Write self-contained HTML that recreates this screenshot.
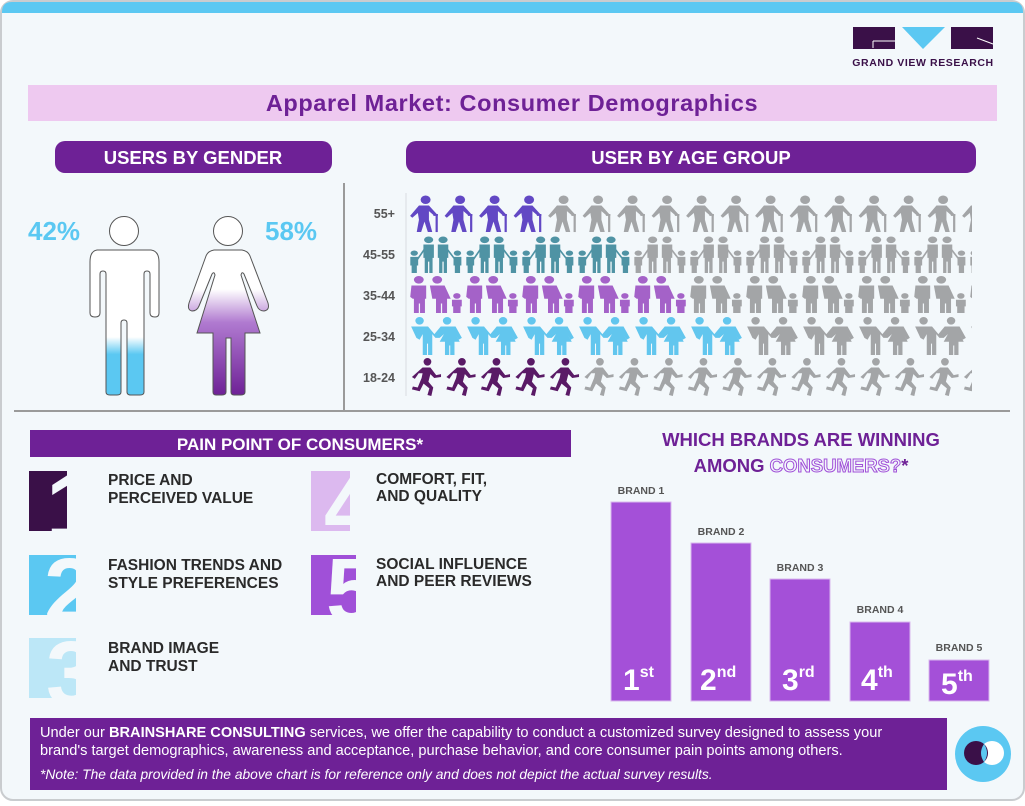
<!DOCTYPE html>
<html><head><meta charset="utf-8">
<style>
html,body{margin:0;padding:0;background:#fff;}
body{width:1025px;height:801px;overflow:hidden;font-family:"Liberation Sans",sans-serif;}
</style></head><body>
<svg id="s" width="1025" height="801" viewBox="0 0 1025 801" xmlns="http://www.w3.org/2000/svg" font-family="Liberation Sans, sans-serif">
<defs>
<linearGradient id="gm" x1="0" y1="0" x2="0" y2="1"><stop offset="0.6" stop-color="#fff"/><stop offset="0.72" stop-color="#5bc8f2"/><stop offset="1" stop-color="#5bc8f2"/></linearGradient>
<linearGradient id="gf" x1="0" y1="0" x2="0" y2="1"><stop offset="0.27" stop-color="#fff"/><stop offset="0.5" stop-color="#b07ad0"/><stop offset="1" stop-color="#6e2196"/></linearGradient>
<symbol id="old" viewBox="0 0 28 40" preserveAspectRatio="none"><circle cx="15" cy="5" r="4.5"/><path d="M9 11 L18 11 L25 20 L23 22 L18 17 L18 26 L21 39 L17 39 L14 28 L11 39 L7 39 L9 26 L8 19 L3 24 L1 22 Z"/><rect x="24" y="20" width="2" height="19"/><path d="M22 20 h4 v2 h-4z"/></symbol>
<symbol id="fam4" viewBox="5 0 42 40" preserveAspectRatio="none"><circle cx="20" cy="4" r="3.5"/><circle cx="31" cy="4" r="3.5"/><path d="M16 9h8v14h-1v16h-2.5v-12h-1v12h-2.5v-16h-1z"/><path d="M27 9h8v14h-1v16h-2.5v-12h-1v12h-2.5v-16h-1z"/><circle cx="9" cy="18" r="2.8"/><path d="M6 22h6v9h-1v8h-4v-8h-1z"/><circle cx="42" cy="18" r="2.8"/><path d="M39 22h6v9h-1v8h-4v-8h-1z"/><path d="M11 24l5-10 1 1-5 10zM35 14l5 9-1 1-5-9z"/></symbol>
<symbol id="fam3" viewBox="2 0 44 40" preserveAspectRatio="none"><circle cx="10" cy="4" r="4"/><circle cx="25" cy="4" r="4"/><path d="M4 10h12v14h-1v15h-4v-10h-1v10h-4v-15h-1l-2-2z"/><path d="M19 10h12l5 14h-3v15h-4v-10h-1v10h-4v-15h-3z"/><circle cx="41" cy="21" r="3"/><path d="M37 25h8v7h-1v7h-6v-7h-1z"/></symbol>
<symbol id="cpl" viewBox="2 0 52 40" preserveAspectRatio="none"><circle cx="12" cy="4" r="4"/><circle cx="38" cy="4" r="4"/><path d="M4 10h16l6 8 6-8h14l6 12-3 2-3-6 4 8h-5v14h-4v-10h-1v10h-4v-14h-5l4-8-4 4h-4l-3-4v22h-4v-12h-1v12h-4v-22l-3 6-3-2z"/></symbol>
<symbol id="run" viewBox="0 0 34 40" preserveAspectRatio="none"><circle cx="19" cy="4" r="4"/><path d="M14 10h8l6 8 5-1 0 3-7 1-4-4-2 8 5 6-2 9-4-1 2-7-6-5-4 8-8-2 1-3 5 1 4-10 1-5-4 0-4 6-3-2z"/></symbol>
<clipPath id="c1"><rect x="29" y="471" width="38" height="60"/></clipPath>
<clipPath id="c2"><rect x="29" y="555" width="47" height="60"/></clipPath>
<clipPath id="c3"><rect x="29" y="638" width="47" height="60"/></clipPath>
<clipPath id="c4"><rect x="311" y="471" width="39" height="60"/></clipPath>
<clipPath id="c5"><rect x="311" y="555" width="45" height="60"/></clipPath>
</defs>
<rect x="1" y="1" width="1023" height="799" rx="12" fill="#f3f8fb" stroke="#c9cccf" stroke-width="2"/>
<path d="M2 13 V12 Q2 2 12 2 H1013 Q1023 2 1023 12 V13 Z" fill="#5bc8f2"/>
<!-- logo -->
<rect x="853" y="27" width="42" height="22" fill="#3a1048"/>
<path d="M873 41 h22 M873 41 v7" stroke="#fff" stroke-width="1" fill="none"/>
<polygon points="902,27 945,27 923,49" fill="#5bc8f2"/>
<rect x="951" y="27" width="42" height="22" fill="#3a1048"/>
<path d="M977 38 l16 6" stroke="#fff" stroke-width="1"/>
<text x="923" y="66" font-size="10.5" font-weight="bold" fill="#3a1048" text-anchor="middle" letter-spacing="0.6">GRAND VIEW RESEARCH</text>
<!-- title -->
<rect x="28" y="85" width="969" height="36" fill="#eec9f0"/>
<text x="512" y="111" font-size="23.5" font-weight="bold" fill="#6e2196" text-anchor="middle" letter-spacing="0.6">Apparel Market: Consumer Demographics</text>
<rect x="55" y="141" width="277" height="32" rx="10" fill="#6e2196"/>
<text x="193" y="164" font-size="18.5" font-weight="bold" fill="#fff" text-anchor="middle">USERS BY GENDER</text>
<rect x="406" y="141" width="570" height="32" rx="10" fill="#6e2196"/>
<text x="691" y="164" font-size="18.5" font-weight="bold" fill="#fff" text-anchor="middle">USER BY AGE GROUP</text>
<line x1="344" y1="183" x2="344" y2="410" stroke="#9a9a9a" stroke-width="2"/>
<line x1="14" y1="411" x2="1010" y2="411" stroke="#9a9a9a" stroke-width="2"/>
<!-- gender -->
<text x="28" y="240" font-size="26" font-weight="bold" fill="#5bc8f2">42%</text>
<text x="265" y="240" font-size="26" font-weight="bold" fill="#5bc8f2">58%</text>
<circle cx="124" cy="231" r="14.5" fill="#fff" stroke="#555" stroke-width="1"/>
<path d="M97 250 H151 Q159 251 159 262 V313 Q159 317 155 317 Q150 317 150 313 V274 Q150 271 147 271 Q144 271 144 274 V392 Q144 395 140 395 H131 Q127 395 127 392 V323 Q127 320 124 320 Q121 320 121 323 V392 Q121 395 117 395 H110 Q106 395 106 392 V274 Q106 271 103 271 Q100 271 100 274 V313 Q100 317 95 317 Q90 317 90 313 V262 Q90 251 97 250Z" fill="url(#gm)" stroke="#555" stroke-width="1"/>
<circle cx="228" cy="231" r="14.5" fill="#fff" stroke="#555" stroke-width="1"/>
<path d="M214 250 H242 Q248 251 250 256 L268 303 Q270 310 264 311 Q259 311 257 306 L244 274 Q242 271 241 275 L260 333 H245 V392 Q245 395 241 395 H234 Q231 395 231 392 V338 H226 V392 Q226 395 222 395 H216 Q213 395 213 392 V333 H197 L215 275 Q214 271 212 274 L199 306 Q197 311 192 311 Q187 310 189 303 L206 256 Q208 251 214 250Z" fill="url(#gf)" stroke="#555" stroke-width="1"/>
<!-- age labels -->
<g font-size="12.5" font-weight="bold" fill="#555" text-anchor="end">
<text x="395" y="218">55+</text><text x="395" y="259">45-55</text><text x="395" y="300">35-44</text><text x="395" y="341">25-34</text><text x="395" y="382">18-24</text>
</g>
<line x1="406" y1="193" x2="406" y2="396" stroke="#d8dde0" stroke-width="1"/>
<g id="icons"></g>
<!-- pain points -->
<rect x="30" y="430" width="541" height="27" fill="#6e2196"/>
<text x="300" y="450" font-size="17" font-weight="bold" fill="#fff" text-anchor="middle">PAIN POINT OF CONSUMERS*</text>
<g font-weight="bold" font-size="92" fill="#f3f8fb">
<rect x="29" y="471" width="38" height="60" fill="#3a1048"/>
<text x="46" y="538" clip-path="url(#c1)">1</text>
<rect x="29" y="555" width="47" height="60" fill="#5bc8f2"/>
<text x="44" y="622" clip-path="url(#c2)">2</text>
<rect x="29" y="638" width="47" height="60" fill="#bce7f7"/>
<text x="46" y="705" clip-path="url(#c3)">3</text>
<rect x="311" y="471" width="39" height="60" fill="#dcb9ef"/>
<text x="324" y="538" clip-path="url(#c4)">4</text>
<rect x="311" y="555" width="45" height="60" fill="#a050d8"/>
<text x="326" y="622" clip-path="url(#c5)">5</text>
</g>
<g font-size="15.5" font-weight="bold" fill="#2a2a2a">
<text x="108" y="485">PRICE AND</text><text x="108" y="503">PERCEIVED VALUE</text>
<text x="108" y="570">FASHION TRENDS AND</text><text x="108" y="588">STYLE PREFERENCES</text>
<text x="108" y="653">BRAND IMAGE</text><text x="108" y="671">AND TRUST</text>
<text x="376" y="484">COMFORT, FIT,</text><text x="376" y="501">AND QUALITY</text>
<text x="376" y="569">SOCIAL INFLUENCE</text><text x="376" y="586">AND PEER REVIEWS</text>
</g>
<!-- brands -->
<text x="801" y="446" font-size="18.5" font-weight="bold" fill="#6e2196" text-anchor="middle">WHICH BRANDS ARE WINNING</text>
<text x="801" y="472" font-size="18.5" font-weight="bold" text-anchor="middle"><tspan fill="#6e2196">AMONG </tspan><tspan fill="#f3f8fb" stroke="#a050d8" stroke-width="1">CONSUMERS?</tspan><tspan fill="#6e2196">*</tspan></text>
<g fill="#a450d8" stroke="#d9b8ee" stroke-width="1">
<rect x="611" y="502" width="60" height="199"/><rect x="691" y="543" width="60" height="158"/><rect x="770" y="579" width="60" height="122"/><rect x="850" y="622" width="60" height="79"/><rect x="929" y="660" width="60" height="41"/>
</g>
<g font-size="10.5" font-weight="bold" fill="#555" text-anchor="middle">
<text x="641" y="494">BRAND 1</text><text x="721" y="535">BRAND 2</text><text x="800" y="571">BRAND 3</text><text x="880" y="613">BRAND 4</text><text x="959" y="651">BRAND 5</text>
</g>
<g font-weight="bold" fill="#fff" font-size="30">
<text x="623" y="690">1<tspan font-size="16" dy="-13">st</tspan></text>
<text x="700" y="690">2<tspan font-size="16" dy="-13">nd</tspan></text>
<text x="782" y="690">3<tspan font-size="16" dy="-13">rd</tspan></text>
<text x="861" y="690">4<tspan font-size="16" dy="-13">th</tspan></text>
<text x="941" y="694">5<tspan font-size="16" dy="-13">th</tspan></text>
</g>
<!-- bottom -->
<rect x="30" y="718" width="917" height="72" fill="#6e2196"/>
<g font-size="14.6" fill="#fff">
<text x="40" y="737">Under our <tspan font-weight="bold">BRAINSHARE CONSULTING</tspan> services, we offer the capability to conduct a customized survey designed to assess your</text>
<text x="40" y="755">brand's target demographics, awareness and acceptance, purchase behavior, and core consumer pain points among others.</text>
<text x="40" y="779" font-style="italic" font-size="13.8">*Note: The data provided in the above chart is for reference only and does not depict the actual survey results.</text>
</g>
<circle cx="983" cy="754" r="28" fill="#5bc8f2"/>
<circle cx="992" cy="753" r="12" fill="#fff"/>
<circle cx="976" cy="753" r="12" fill="#3a1048"/>
<path d="M984 744 Q990 753 984 762 Q978 753 984 744Z" fill="#5bc8f2"/>
</svg>
<script>
var g=document.getElementById('icons'),ns='http://www.w3.org/2000/svg',gray='#a3a5a7';
function put(id,x,y,w,h,c){var u=document.createElementNS(ns,'use');u.setAttribute('href','#'+id);u.setAttribute('x',x);u.setAttribute('y',y);u.setAttribute('width',w);u.setAttribute('height',h);u.setAttribute('fill',c);g.appendChild(u);}
var clip=document.createElementNS(ns,'clipPath');clip.id='cl';var r=document.createElementNS(ns,'rect');r.setAttribute('x',408);r.setAttribute('y',190);r.setAttribute('width',564);r.setAttribute('height',210);clip.appendChild(r);g.appendChild(clip);g.setAttribute('clip-path','url(#cl)');
for(var i=0;i<17;i++)put('old',409+i*34.5,195,31,38,i<4?'#6248c4':gray);
for(var i=0;i<11;i++)put('fam4',409+i*56,236,55,38,i<4?'#4f93a4':gray);
for(var i=0;i<11;i++)put('fam3',409+i*56,276,54,38,i<5?'#a462c8':gray);
for(var i=0;i<11;i++)put('cpl',409+i*56,317,55,38,i<6?'#62c6ee':gray);
for(var i=0;i<17;i++)put('run',409+i*34.5,358,33,38,i<5?'#5a1a66':gray);
</script>
</body></html>
